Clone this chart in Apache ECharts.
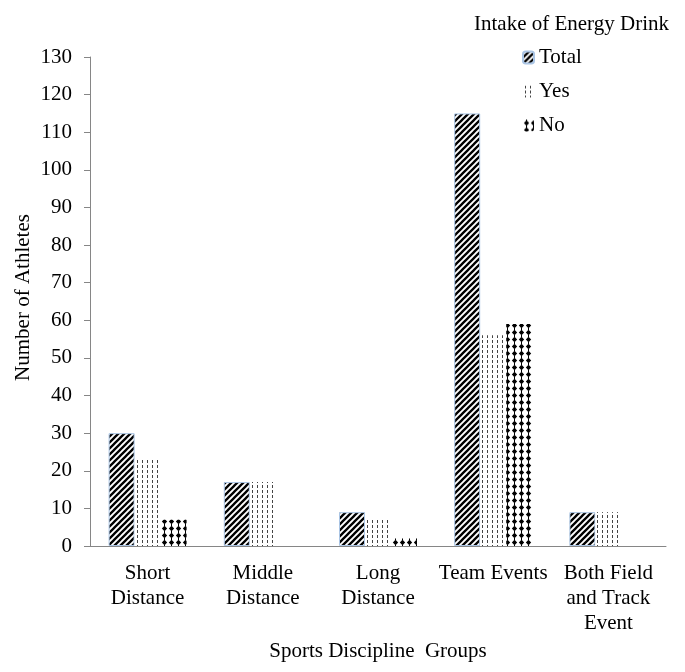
<!DOCTYPE html>
<html>
<head>
<meta charset="utf-8">
<script src="https://cdn.jsdelivr.net/npm/echarts@6/dist/echarts.min.js"></script>
<style>html,body{margin:0;padding:0;background:#fff}#c{width:685px;height:672px}</style>
</head>
<body>
<div id="c"></div>
<script>
const categories = ['Short\nDistance', 'Middle\nDistance', 'Long\nDistance', 'Team Events', 'Both Field\nand Track\nEvent'];
const totalValues = [30, 17, 9, 115, 9];
const yesValues = [23, 17, 7, 56, 9];
const noValues = [7, 0, 2, 59, 0];
const seriesNames = ['Total', 'Yes', 'No'];
const yTicks = [0, 130, 10];

function makeCanvas(w, h, draw) {
  const c = document.createElement('canvas');
  c.width = w; c.height = h;
  const ctx = c.getContext('2d');
  ctx.fillStyle = '#fff';
  ctx.fillRect(0, 0, w, h);
  draw(ctx, w, h);
  return c;
}
const stripe = makeCanvas(6, 6, (ctx, w, h) => {
  ctx.strokeStyle = '#000';
  ctx.lineWidth = 2.3;
  ctx.beginPath();
  for (let k = -1; k <= 1; k++) {
    ctx.moveTo(k * w - 1, h + 1);
    ctx.lineTo(k * w + w + 1, -1);
  }
  ctx.stroke();
});
const dashes = makeCanvas(5, 5, (ctx) => {
  ctx.fillStyle = '#444';
  ctx.fillRect(2, 0, 1, 3);
});
const dots = makeCanvas(7, 7, (ctx) => {
  ctx.fillStyle = '#000';
  ctx.beginPath();
  ctx.moveTo(3.5, 0.8);
  ctx.lineTo(6.2, 3.5);
  ctx.lineTo(3.5, 6.2);
  ctx.lineTo(0.8, 3.5);
  ctx.closePath();
  ctx.fill();
  ctx.fillRect(3, 0, 1, 1);
  ctx.fillRect(3, 6, 1, 1);
});

const serif = '"Liberation Serif", "Times New Roman", serif';
const fs = 21;
const chart = echarts.init(document.getElementById('c'));
chart.setOption({
  animation: false,
  backgroundColor: '#fff',
  textStyle: { fontFamily: serif, color: '#000' },
  title: {
    text: 'Intake of Energy Drink',
    left: 469, top: 9,
    textStyle: { fontFamily: serif, fontSize: fs, fontWeight: 'normal', color: '#000' }
  },
  legend: {
    orient: 'vertical',
    left: 517, top: 42,
    itemWidth: 11, itemHeight: 12, itemGap: 13,
    data: seriesNames,
    textStyle: { fontFamily: serif, fontSize: fs, color: '#000', padding: [0, 0, 0, 0] }
  },
  grid: { left: 90, right: 19, top: 57, bottom: 126 },
  xAxis: {
    type: 'category',
    data: categories,
    name: 'Sports Discipline  Groups',
    nameLocation: 'middle',
    nameGap: 92,
    nameTextStyle: { fontFamily: serif, fontSize: fs, color: '#000' },
    axisLine: { lineStyle: { color: '#868686', width: 1 } },
    axisTick: { show: false },
    axisLabel: { fontFamily: serif, fontSize: fs, color: '#000', lineHeight: 25, margin: 15, interval: 0 }
  },
  yAxis: {
    type: 'value',
    min: yTicks[0], max: yTicks[1], interval: yTicks[2],
    name: 'Number of Athletes',
    nameLocation: 'middle',
    nameGap: 56,
    nameMoveOverlap: false,
    nameRotate: 90,
    nameTextStyle: { fontFamily: serif, fontSize: fs, color: '#000', padding: [0, 0, 0, 8] },
    axisLine: { show: true, lineStyle: { color: '#868686', width: 1 } },
    axisTick: { show: true, length: 6, lineStyle: { color: '#868686' } },
    splitLine: { show: false },
    axisLabel: { fontFamily: serif, fontSize: fs, color: '#000', margin: 18 }
  },
  series: [
    { name: seriesNames[0], type: 'bar', data: totalValues, barWidth: 26, barGap: '0%',
      itemStyle: { color: { image: stripe, repeat: 'repeat' }, borderColor: '#a9c4e4', borderWidth: 1 } },
    { name: seriesNames[1], type: 'bar', data: yesValues, barWidth: 26, barGap: '0%',
      itemStyle: { color: { image: dashes, repeat: 'repeat' } } },
    { name: seriesNames[2], type: 'bar', data: noValues, barWidth: 26, barGap: '0%',
      itemStyle: { color: { image: dots, repeat: 'repeat' } } }
  ]
});
</script>
</body>
</html>
